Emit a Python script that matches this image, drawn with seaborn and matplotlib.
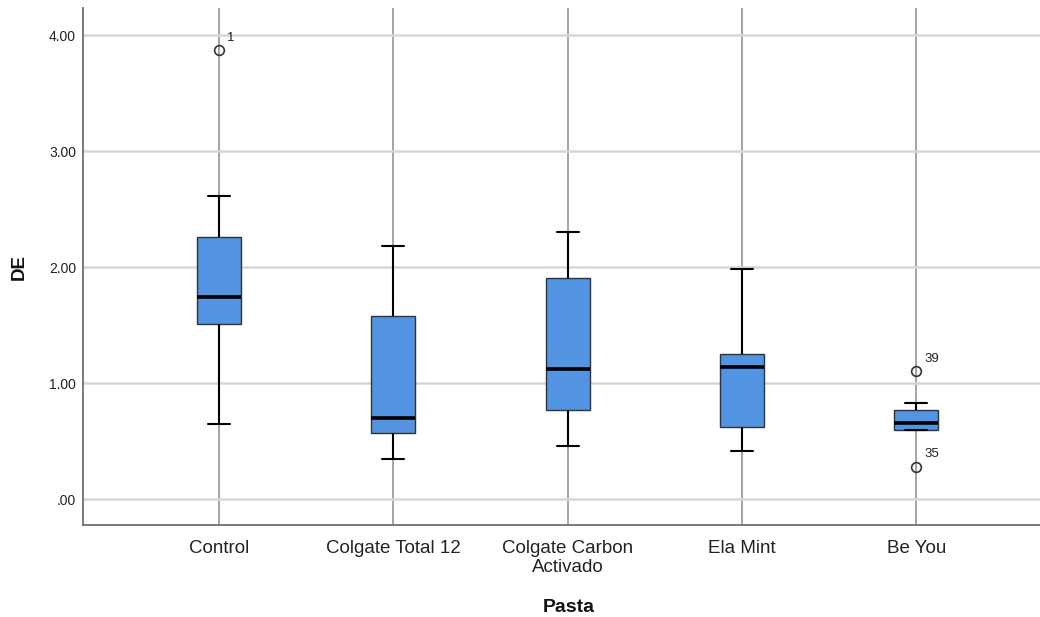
import numpy as np
import pandas as pd
import matplotlib
matplotlib.use("Agg")
import matplotlib.pyplot as plt
import seaborn as sns

# ---- data (five-number summaries + outliers) ----
categories = ["Control", "Colgate Total 12", "Colgate Carbon\nActivado", "Ela Mint", "Be You"]
whisker_low = [0.650, 0.345, 0.455, 0.410, 0.595]
q1 = [1.505, 0.572, 0.767, 0.618, 0.595]
median = [1.745, 0.700, 1.118, 1.135, 0.652]
q3 = [2.258, 1.580, 1.902, 1.247, 0.767]
whisker_high = [2.613, 2.184, 2.305, 1.980, 0.830]
outliers = [[3.870], [], [], [], [0.279, 1.103]]
outlier_ids = [["1"], [], [], [], ["35", "39"]]
ytick_values = [0, 1, 2, 3, 4]
ytick_labels = [".00", "1.00", "2.00", "3.00", "4.00"]

# Build observations whose quartiles/whiskers reproduce the summaries above
rows = []
m = 10
for cat, lo, a, md, b, hi, fl in zip(categories, whisker_low, q1, median, q3, whisker_high, outliers):
    vals = [lo] * m + [a] * m + [md] * m + [b] * m + [hi] * m + list(fl)
    rows += [(cat, v) for v in vals]
df = pd.DataFrame(rows, columns=["Pasta", "DE"])

sns.set_theme(style="white")
plt.rcParams["font.family"] = ["Liberation Sans", "DejaVu Sans"]

fig = plt.figure(figsize=(10.4, 6.17), dpi=100)
ax = fig.add_axes([83 / 1040, 92 / 617, 957 / 1040, 517 / 617])

sns.boxplot(
    data=df, x="Pasta", y="DE", order=categories, ax=ax,
    color="#5294e2", saturation=1, width=0.2525, linewidth=1.0,
    linecolor="#333333", whis=1.5,
    boxprops=dict(edgecolor="#333333", linewidth=1.0),
    medianprops=dict(color="black", linewidth=2.6),
    whiskerprops=dict(color="black", linewidth=1.5),
    capprops=dict(color="black", linewidth=1.5),
    flierprops=dict(marker="o", markerfacecolor="none", markeredgecolor="#333333",
                    markersize=7, markeredgewidth=1.2),
)

# outlier case labels
for i, (fl, ids) in enumerate(zip(outliers, outlier_ids)):
    for v, lab in zip(fl, ids):
        ax.annotate(lab, xy=(i, v), xytext=(6, 9), textcoords="offset points",
                    fontsize=9.5, color="#222222", ha="left", va="center")

ax.set_xlim(-0.78, 4.71)
ax.set_ylim(-0.224, 4.233)
ax.set_yticks(ytick_values)
ax.set_yticklabels(ytick_labels)

ax.set_axisbelow(True)
ax.yaxis.grid(True, color="#d6d6d6", linewidth=1.8)
ax.xaxis.grid(True, color="#8c8c8c", linewidth=1.1)

for s in ["top", "right"]:
    ax.spines[s].set_visible(False)
for s in ["left", "bottom"]:
    ax.spines[s].set_color("#707070")
    ax.spines[s].set_linewidth(1.3)

ax.tick_params(axis="y", length=0, pad=5, labelsize=10, labelcolor="#222222")
ax.tick_params(axis="x", length=0, pad=11, labelsize=13.5, labelcolor="#222222")
for t in ax.get_xticklabels():
    t.set_linespacing(1.12)

ax.set_xlabel("Pasta", fontsize=14, fontweight="bold", color="#111111")
ax.set_ylabel("DE", fontsize=13.5, fontweight="bold", color="#111111")
ax.xaxis.set_label_coords(0.508, -0.143)
ax.yaxis.set_label_coords(-0.0577, 0.5)

fig.savefig("out.png", dpi=100)
